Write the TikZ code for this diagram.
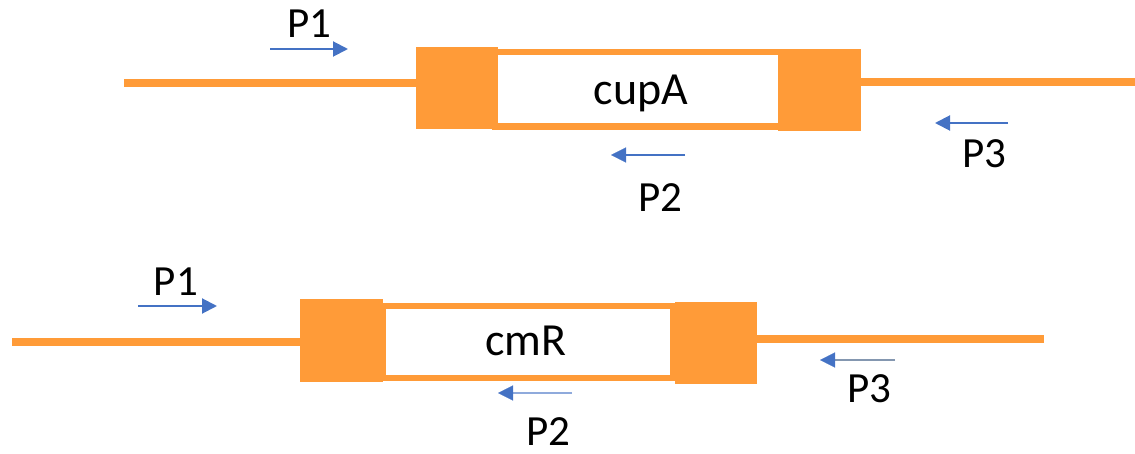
\documentclass[tikz,border=0pt]{standalone}
\usepackage{fontspec}
\setmainfont{Carlito}
\usetikzlibrary{arrows.meta}
\definecolor{gorange}{HTML}{FF9B38}
\definecolor{pblue}{HTML}{4472C4}
\definecolor{pblueL}{HTML}{8FAADC}
\definecolor{pgrey}{HTML}{8497B0}
\tikzset{
  block/.style={fill=gorange,draw=none,inner sep=0pt},
  genebox/.style={draw=gorange,line width=6.5pt,fill=white,inner sep=0pt},
  strand/.style={draw=gorange,line width=8pt},
  primer/.style={draw=pblue,line width=2pt,-{Triangle[length=15pt,width=15pt,color=pblue]}},
  primerthin/.style={line width=1.3pt,-{Triangle[length=15pt,width=15pt,color=pblue,line width=0.1pt]}},
  plabel/.style={anchor=base,inner sep=0pt,font=\fontsize{43}{43}\selectfont},
  glabel/.style={anchor=base,inner sep=0pt,font=\fontsize{46}{46}\selectfont},
}
\begin{document}
\begin{tikzpicture}[x=1pt,y=-1pt]
\useasboundingbox (0,0) rectangle (1135,454);
% ---- top construct ----
\coordinate (tl0) at (124,83);
\coordinate (tr1) at (1135,82);
\node[block,minimum width=82pt,minimum height=82pt] (tb1) at (457,88) {};
\node[block,minimum width=83pt,minimum height=82pt] (tb2) at (819.5,90) {};
\draw[strand] (tl0) -- (tb1.west|-tl0);
\draw[strand] (tb2.east|-tr1) -- (tr1);
\node[genebox,minimum width=286pt,minimum height=74.5pt] (tbox) at (638,89.25) {};
\node[block,minimum width=82pt,minimum height=82pt] at (457,88) {};
\node[block,minimum width=83pt,minimum height=82pt] at (819.5,90) {};
\node[glabel] (cupA) at (641,105) {cupA};
% primers top
\coordinate (p1a) at (270,49); \coordinate (p1b) at (348,49);
\draw[primer] (p1a) -- (p1b);
\node[plabel] (tP1) at (309,38) {P1};
\coordinate (p2a) at (685,155); \coordinate (p2b) at (611,155);
\draw[primerthin,draw=pblue] (p2a) -- (p2b);
\node[plabel] (tP2) at (660,212) {P2};
\coordinate (p3a) at (1008,123); \coordinate (p3b) at (935,123);
\draw[primer] (p3a) -- (p3b);
\node[plabel] (tP3) at (984,168) {P3};
% ---- bottom construct ----
\coordinate (bl0) at (12,342);
\coordinate (br1) at (1044,339);
\node[block,minimum width=83pt,minimum height=83pt] (bb1) at (341.5,340.5) {};
\node[block,minimum width=82pt,minimum height=82pt] (bb2) at (716,343) {};
\draw[strand] (bl0) -- (bb1.west|-bl0);
\draw[strand] (bb2.east|-br1) -- (br1);
\node[genebox,minimum width=290pt,minimum height=72pt] (bbox) at (528,342) {};
\node[block,minimum width=83pt,minimum height=83pt] at (341.5,340.5) {};
\node[block,minimum width=82pt,minimum height=82pt] at (716,343) {};
\node[glabel] (cmR) at (526,355) {cmR};
% primers bottom
\coordinate (q1a) at (138,306); \coordinate (q1b) at (217,306);
\draw[primer] (q1a) -- (q1b);
\node[plabel] (bP1) at (176,296) {P1};
\coordinate (q2a) at (572,393); \coordinate (q2b) at (498,393);
\draw[primerthin,draw=pblueL] (q2a) -- (q2b);
\node[plabel] (bP2) at (548,445) {P2};
\coordinate (q3a) at (895,360); \coordinate (q3b) at (820,360);
\draw[primerthin,draw=pgrey] (q3a) -- (q3b);
\node[plabel] (bP3) at (869,402) {P3};
\end{tikzpicture}
\end{document}
